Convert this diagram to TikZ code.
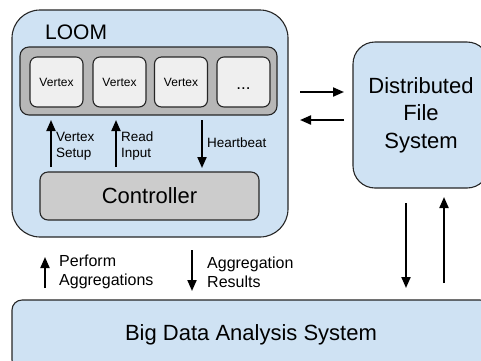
\documentclass[tikz,border=0pt]{standalone}
\usepackage{fontspec}
\setmainfont{Liberation Sans}
\usetikzlibrary{arrows.meta}
\definecolor{lblue}{HTML}{CFE2F3}
\definecolor{barg}{HTML}{B7B7B7}
\definecolor{ctrlg}{HTML}{CCCCCC}
\definecolor{vtxg}{HTML}{EFEFEF}
\definecolor{edge}{HTML}{262626}
\tikzset{
  blk/.style={draw=edge, line width=1.1pt, inner sep=0pt},
  bluebox/.style={blk, fill=lblue},
  vtx/.style={blk, fill=vtxg, rounded corners=7pt, minimum width=53pt, minimum height=50pt, font=\fontsize{12}{14}\selectfont},
  arr/.style={line width=2pt, -{Triangle[length=11pt,width=9pt]}},
  lbl/.style={anchor=west, align=left, inner sep=0pt, font=\fontsize{13.5}{15.5}\selectfont},
  biglbl/.style={anchor=west, align=left, inner sep=0pt, font=\fontsize{16}{19}\selectfont},
}
\begin{document}
\begin{tikzpicture}[x=1pt,y=-1pt]
\path[use as bounding box] (0,0) rectangle (481,360);
\clip (0,0) rectangle (481,360);
% main boxes
\node[bluebox, rounded corners=28pt, minimum width=276pt, minimum height=227pt] (loom) at (150,123.5) {};
\node[anchor=west, inner sep=0pt, font=\fontsize{21}{24}\selectfont] (loomlbl) at (45,32) {LOOM};
\node[blk, fill=barg, rounded corners=9pt, minimum width=257pt, minimum height=68pt] (bar) at (148.5,81) {};
\node[vtx] (v1) at (56.5,82) {Vertex};
\node[vtx] (v2) at (119.5,82) {Vertex};
\node[vtx] (v3) at (181,82) {Vertex};
\node[vtx] (v4) at (243.5,82) {\fontsize{17}{19}\selectfont\vphantom{Vg}\raisebox{-4pt}{...}};
\node[blk, fill=ctrlg, rounded corners=8pt, minimum width=219pt, minimum height=48pt, font=\fontsize{22}{26}\selectfont] (ctrl) at (149.5,196) {Controller};
\node[bluebox, rounded corners=22pt, minimum width=136pt, minimum height=146pt, align=center, font=\fontsize{22}{27.5}\selectfont] (dfs) at (421,115) {Distributed\\File\\System};
\node[bluebox, rounded corners=10pt, minimum width=478pt, minimum height=70pt, font=\fontsize{22}{26}\selectfont] (bdas) at (251,335) {Big Data Analysis System};
% labels
\node[lbl] (lvs) at (56,146) {Vertex\\Setup};
\node[lbl] (lri) at (121,146) {Read\\Input};
\node[lbl] (lhb) at (207,143) {Heartbeat};
\node[biglbl] (lpa) at (59,272) {Perform\\Aggregations};
\node[biglbl] (lar) at (207,272) {Aggregation\\Results};
% arrow end points
\coordinate (vsA) at (51,167); \coordinate (vsB) at (51,120);
\coordinate (riA) at (116,167); \coordinate (riB) at (116,120);
\coordinate (hbA) at (202,120); \coordinate (hbB) at (202,168);
\coordinate (r1A) at (300,92); \coordinate (r1B) at (344,92);
\coordinate (l1A) at (344,120); \coordinate (l1B) at (300,120);
\coordinate (dA) at (406,203); \coordinate (dB) at (406,288);
\coordinate (uA) at (444,283); \coordinate (uB) at (444,197);
\coordinate (paA) at (45,288); \coordinate (paB) at (45,257);
\coordinate (arA) at (192,250); \coordinate (arB) at (192,291);
\draw[arr] (vsA) -- (vsB);
\draw[arr] (riA) -- (riB);
\draw[arr] (hbA) -- (hbB);
\draw[arr] (r1A) -- (r1B);
\draw[arr] (l1A) -- (l1B);
\draw[arr] (dA) -- (dB);
\draw[arr] (uA) -- (uB);
\draw[arr] (paA) -- (paB);
\draw[arr] (arA) -- (arB);
\end{tikzpicture}
\end{document}
